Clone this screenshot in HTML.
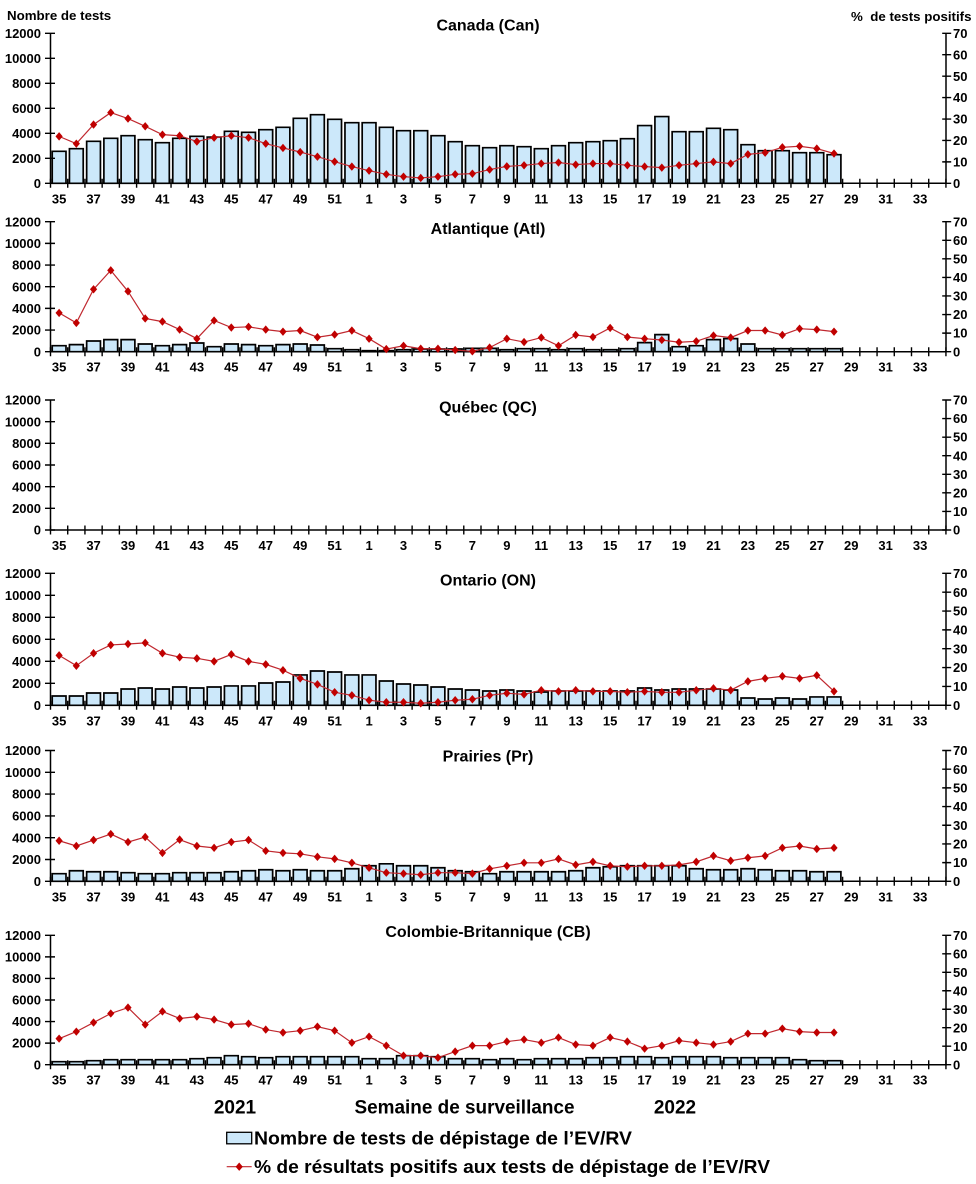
<!DOCTYPE html>
<html><head><meta charset="utf-8">
<style>
html,body{margin:0;padding:0;background:#fff;}
svg{display:block;font-family:"Liberation Sans",Arial,sans-serif;font-weight:bold;}
.b rect{fill:#cce8fa;stroke:#000;stroke-width:1.7;vector-effect:non-scaling-stroke;}
.ln{fill:none;stroke:#c0282f;stroke-width:1.2;vector-effect:non-scaling-stroke;}
.ax{stroke:#000;stroke-width:1.5;fill:none;}
.tk{stroke:#000;fill:none;}
.yl{font-size:13px;text-anchor:end;}
.yr{font-size:13px;text-anchor:start;}
.xl{font-size:13px;text-anchor:middle;}
.tt{font-size:16px;text-anchor:middle;}
</style></head>
<body>
<svg width="976" height="1184" viewBox="0 0 976 1184" xmlns="http://www.w3.org/2000/svg">
<defs>
<marker id="mA" markerUnits="userSpaceOnUse" markerWidth="1" markerHeight="5" refX="0" refY="0" overflow="visible"><path d="M0,-1.96 L0.209,0 L0,1.96 L-0.209,0Z" fill="#c00000"/></marker>
<marker id="mB" markerUnits="userSpaceOnUse" markerWidth="1" markerHeight="5" refX="0" refY="0" overflow="visible"><path d="M0,-2.25 L0.209,0 L0,2.25 L-0.209,0Z" fill="#c00000"/></marker>
</defs>
<rect width="976" height="1184" fill="#fff"/>

<!-- axis titles -->
<text x="7" y="20" font-size="13.3">Nombre de tests</text>
<text x="971.5" y="21" font-size="13.3" text-anchor="end">%&#160; de tests positifs</text>

<!-- ================= PANEL 1 Canada ================= -->
<text class="tt" x="488" y="30.5">Canada (Can)</text>
<g class="b" transform="translate(50.5,183.3) scale(17.22,-0.0125)">
<rect x="0.1" width="0.8" height="2560"/><rect x="1.1" width="0.8" height="2770"/><rect x="2.1" width="0.8" height="3360"/><rect x="3.1" width="0.8" height="3600"/><rect x="4.1" width="0.8" height="3810"/><rect x="5.1" width="0.8" height="3490"/><rect x="6.1" width="0.8" height="3250"/><rect x="7.1" width="0.8" height="3600"/><rect x="8.1" width="0.8" height="3760"/><rect x="9.1" width="0.8" height="3700"/><rect x="10.1" width="0.8" height="4160"/><rect x="11.1" width="0.8" height="4080"/><rect x="12.1" width="0.8" height="4290"/><rect x="13.1" width="0.8" height="4480"/><rect x="14.1" width="0.8" height="5200"/><rect x="15.1" width="0.8" height="5490"/><rect x="16.1" width="0.8" height="5120"/><rect x="17.1" width="0.8" height="4850"/><rect x="18.1" width="0.8" height="4850"/><rect x="19.1" width="0.8" height="4480"/><rect x="20.1" width="0.8" height="4210"/><rect x="21.1" width="0.8" height="4210"/><rect x="22.1" width="0.8" height="3810"/><rect x="23.1" width="0.8" height="3330"/><rect x="24.1" width="0.8" height="3010"/><rect x="25.1" width="0.8" height="2850"/><rect x="26.1" width="0.8" height="3010"/><rect x="27.1" width="0.8" height="2930"/><rect x="28.1" width="0.8" height="2770"/><rect x="29.1" width="0.8" height="3010"/><rect x="30.1" width="0.8" height="3250"/><rect x="31.1" width="0.8" height="3330"/><rect x="32.1" width="0.8" height="3410"/><rect x="33.1" width="0.8" height="3570"/><rect x="34.1" width="0.8" height="4620"/><rect x="35.1" width="0.8" height="5340"/><rect x="36.1" width="0.8" height="4130"/><rect x="37.1" width="0.8" height="4130"/><rect x="38.1" width="0.8" height="4400"/><rect x="39.1" width="0.8" height="4290"/><rect x="40.1" width="0.8" height="3090"/><rect x="41.1" width="0.8" height="2610"/><rect x="42.1" width="0.8" height="2610"/><rect x="43.1" width="0.8" height="2450"/><rect x="44.1" width="0.8" height="2450"/><rect x="45.1" width="0.8" height="2290"/>
</g>
<path class="ax" d="M50.5,33.3V183.3H946V33.3"/>
<line class="tk" x1="49.8" y1="183.3" x2="946.7" y2="183.3" stroke-width="9" stroke-dasharray="1.4 15.82"/>
<line class="tk" x1="50" y1="32.6" x2="50" y2="184" stroke-width="10" stroke-dasharray="1.4 23.6"/>
<line class="tk" x1="946.7" y1="32.6" x2="946.7" y2="184" stroke-width="9" stroke-dasharray="1.4 20.029"/>
<g transform="translate(50.5,183.3) scale(17.22,-2.142857)">
<polyline class="ln" marker-start="url(#mA)" marker-mid="url(#mA)" marker-end="url(#mA)" points="0.5,21.9 1.5,18.5 2.5,27.4 3.5,33 4.5,30.2 5.5,26.6 6.5,22.7 7.5,22.2 8.5,19.5 9.5,21.3 10.5,22.2 11.5,21.3 12.5,18.5 13.5,16.5 14.5,14.6 15.5,12.4 16.5,10.1 17.5,7.8 18.5,5.9 19.5,4.2 20.5,3.1 21.5,2.5 22.5,3.1 23.5,4.2 24.5,4.5 25.5,6.4 26.5,7.9 27.5,8.4 28.5,9.2 29.5,9.7 30.5,8.7 31.5,9.2 32.5,9.2 33.5,8.4 34.5,7.8 35.5,7.3 36.5,8.4 37.5,9.2 38.5,10 39.5,9.2 40.5,13.5 41.5,14.3 42.5,16.8 43.5,17.3 44.5,16.2 45.5,13.9"/>
</g>
<text class="yl" x="41" y="187.9">0</text><text class="yl" x="41" y="162.9">2000</text><text class="yl" x="41" y="137.9">4000</text><text class="yl" x="41" y="112.9">6000</text><text class="yl" x="41" y="87.9">8000</text><text class="yl" x="41" y="62.9">10000</text><text class="yl" x="41" y="37.9">12000</text>
<text class="yr" x="953" y="187.9">0</text><text class="yr" x="953" y="166.5">10</text><text class="yr" x="953" y="145">20</text><text class="yr" x="953" y="123.6">30</text><text class="yr" x="953" y="102.2">40</text><text class="yr" x="953" y="80.8">50</text><text class="yr" x="953" y="59.3">60</text><text class="yr" x="953" y="37.9">70</text>
<g class="xl">
<text x="59.11" y="203.3">35</text><text x="93.55" y="203.3">37</text><text x="127.99" y="203.3">39</text><text x="162.43" y="203.3">41</text><text x="196.87" y="203.3">43</text><text x="231.31" y="203.3">45</text><text x="265.75" y="203.3">47</text><text x="300.19" y="203.3">49</text><text x="334.63" y="203.3">51</text><text x="369.07" y="203.3">1</text><text x="403.51" y="203.3">3</text><text x="437.95" y="203.3">5</text><text x="472.39" y="203.3">7</text><text x="506.83" y="203.3">9</text><text x="541.27" y="203.3">11</text><text x="575.71" y="203.3">13</text><text x="610.15" y="203.3">15</text><text x="644.59" y="203.3">17</text><text x="679.03" y="203.3">19</text><text x="713.47" y="203.3">21</text><text x="747.91" y="203.3">23</text><text x="782.35" y="203.3">25</text><text x="816.79" y="203.3">27</text><text x="851.23" y="203.3">29</text><text x="885.67" y="203.3">31</text><text x="920.11" y="203.3">33</text>
</g>

<!-- ================= PANEL 2 Atlantique ================= -->
<text class="tt" x="488" y="234">Atlantique (Atl)</text>
<g class="b" transform="translate(50.5,351.7) scale(17.22,-0.0108333)">
<rect x="0.1" width="0.8" height="557"/><rect x="1.1" width="0.8" height="650"/><rect x="2.1" width="0.8" height="990"/><rect x="3.1" width="0.8" height="1113"/><rect x="4.1" width="0.8" height="1113"/><rect x="5.1" width="0.8" height="711"/><rect x="6.1" width="0.8" height="557"/><rect x="7.1" width="0.8" height="650"/><rect x="8.1" width="0.8" height="804"/><rect x="9.1" width="0.8" height="464"/><rect x="10.1" width="0.8" height="711"/><rect x="11.1" width="0.8" height="650"/><rect x="12.1" width="0.8" height="557"/><rect x="13.1" width="0.8" height="650"/><rect x="14.1" width="0.8" height="711"/><rect x="15.1" width="0.8" height="619"/><rect x="16.1" width="0.8" height="278"/><rect x="17.1" width="0.8" height="186"/><rect x="18.1" width="0.8" height="93"/><rect x="19.1" width="0.8" height="93"/><rect x="20.1" width="0.8" height="186"/><rect x="21.1" width="0.8" height="247"/><rect x="22.1" width="0.8" height="247"/><rect x="23.1" width="0.8" height="247"/><rect x="24.1" width="0.8" height="309"/><rect x="25.1" width="0.8" height="309"/><rect x="26.1" width="0.8" height="186"/><rect x="27.1" width="0.8" height="278"/><rect x="28.1" width="0.8" height="278"/><rect x="29.1" width="0.8" height="186"/><rect x="30.1" width="0.8" height="278"/><rect x="31.1" width="0.8" height="186"/><rect x="32.1" width="0.8" height="186"/><rect x="33.1" width="0.8" height="278"/><rect x="34.1" width="0.8" height="835"/><rect x="35.1" width="0.8" height="1577"/><rect x="36.1" width="0.8" height="464"/><rect x="37.1" width="0.8" height="557"/><rect x="38.1" width="0.8" height="1113"/><rect x="39.1" width="0.8" height="1206"/><rect x="40.1" width="0.8" height="711"/><rect x="41.1" width="0.8" height="278"/><rect x="42.1" width="0.8" height="278"/><rect x="43.1" width="0.8" height="278"/><rect x="44.1" width="0.8" height="278"/><rect x="45.1" width="0.8" height="278"/>
</g>
<path class="ax" d="M50.5,221.7V351.7H946V221.7"/>
<line class="tk" x1="49.8" y1="351.7" x2="946.7" y2="351.7" stroke-width="9" stroke-dasharray="1.4 15.82"/>
<line class="tk" x1="50" y1="221" x2="50" y2="352.4" stroke-width="10" stroke-dasharray="1.4 20.267"/>
<line class="tk" x1="946.7" y1="221" x2="946.7" y2="352.4" stroke-width="9" stroke-dasharray="1.4 17.171"/>
<g transform="translate(50.5,351.7) scale(17.22,-1.857143)">
<polyline class="ln" marker-start="url(#mB)" marker-mid="url(#mB)" marker-end="url(#mB)" points="0.5,20.9 1.5,15.5 2.5,33.6 3.5,43.8 4.5,32.5 5.5,17.9 6.5,16.2 7.5,11.9 8.5,7 9.5,16.8 10.5,13 11.5,13.4 12.5,11.9 13.5,10.8 14.5,11.4 15.5,7.8 16.5,9.2 17.5,11.4 18.5,7 19.5,1.4 20.5,3.2 21.5,1.6 22.5,1.6 23.5,0.9 24.5,0.2 25.5,2.2 26.5,7 27.5,5.2 28.5,7.6 29.5,3.2 30.5,9 31.5,7.9 32.5,12.8 33.5,7.9 34.5,7 35.5,6.3 36.5,5.1 37.5,5.6 38.5,8.7 39.5,7.6 40.5,11.4 41.5,11.4 42.5,9 43.5,12.4 44.5,11.9 45.5,10.8"/>
</g>
<text class="yl" x="41" y="356.3">0</text><text class="yl" x="41" y="334.6">2000</text><text class="yl" x="41" y="313">4000</text><text class="yl" x="41" y="291.3">6000</text><text class="yl" x="41" y="269.6">8000</text><text class="yl" x="41" y="248">10000</text><text class="yl" x="41" y="226.3">12000</text>
<text class="yr" x="953" y="356.3">0</text><text class="yr" x="953" y="337.7">10</text><text class="yr" x="953" y="319.2">20</text><text class="yr" x="953" y="300.6">30</text><text class="yr" x="953" y="282">40</text><text class="yr" x="953" y="263.4">50</text><text class="yr" x="953" y="244.9">60</text><text class="yr" x="953" y="226.3">70</text>
<g class="xl">
<text x="59.11" y="371.7">35</text><text x="93.55" y="371.7">37</text><text x="127.99" y="371.7">39</text><text x="162.43" y="371.7">41</text><text x="196.87" y="371.7">43</text><text x="231.31" y="371.7">45</text><text x="265.75" y="371.7">47</text><text x="300.19" y="371.7">49</text><text x="334.63" y="371.7">51</text><text x="369.07" y="371.7">1</text><text x="403.51" y="371.7">3</text><text x="437.95" y="371.7">5</text><text x="472.39" y="371.7">7</text><text x="506.83" y="371.7">9</text><text x="541.27" y="371.7">11</text><text x="575.71" y="371.7">13</text><text x="610.15" y="371.7">15</text><text x="644.59" y="371.7">17</text><text x="679.03" y="371.7">19</text><text x="713.47" y="371.7">21</text><text x="747.91" y="371.7">23</text><text x="782.35" y="371.7">25</text><text x="816.79" y="371.7">27</text><text x="851.23" y="371.7">29</text><text x="885.67" y="371.7">31</text><text x="920.11" y="371.7">33</text>
</g>

<!-- ================= PANEL 3 Québec ================= -->
<text class="tt" x="488" y="412.5">Québec (QC)</text>
<path class="ax" d="M50.5,400V530H946V400"/>
<line class="tk" x1="49.8" y1="530" x2="946.7" y2="530" stroke-width="9" stroke-dasharray="1.4 15.82"/>
<line class="tk" x1="50" y1="399.3" x2="50" y2="530.7" stroke-width="10" stroke-dasharray="1.4 20.267"/>
<line class="tk" x1="946.7" y1="399.3" x2="946.7" y2="530.7" stroke-width="9" stroke-dasharray="1.4 17.171"/>
<text class="yl" x="41" y="534.6">0</text><text class="yl" x="41" y="512.9">2000</text><text class="yl" x="41" y="491.3">4000</text><text class="yl" x="41" y="469.6">6000</text><text class="yl" x="41" y="447.9">8000</text><text class="yl" x="41" y="426.3">10000</text><text class="yl" x="41" y="404.6">12000</text>
<text class="yr" x="953" y="534.6">0</text><text class="yr" x="953" y="516">10</text><text class="yr" x="953" y="497.5">20</text><text class="yr" x="953" y="478.9">30</text><text class="yr" x="953" y="460.3">40</text><text class="yr" x="953" y="441.7">50</text><text class="yr" x="953" y="423.2">60</text><text class="yr" x="953" y="404.6">70</text>
<g class="xl">
<text x="59.11" y="550">35</text><text x="93.55" y="550">37</text><text x="127.99" y="550">39</text><text x="162.43" y="550">41</text><text x="196.87" y="550">43</text><text x="231.31" y="550">45</text><text x="265.75" y="550">47</text><text x="300.19" y="550">49</text><text x="334.63" y="550">51</text><text x="369.07" y="550">1</text><text x="403.51" y="550">3</text><text x="437.95" y="550">5</text><text x="472.39" y="550">7</text><text x="506.83" y="550">9</text><text x="541.27" y="550">11</text><text x="575.71" y="550">13</text><text x="610.15" y="550">15</text><text x="644.59" y="550">17</text><text x="679.03" y="550">19</text><text x="713.47" y="550">21</text><text x="747.91" y="550">23</text><text x="782.35" y="550">25</text><text x="816.79" y="550">27</text><text x="851.23" y="550">29</text><text x="885.67" y="550">31</text><text x="920.11" y="550">33</text>
</g>

<!-- ================= PANEL 4 Ontario ================= -->
<text class="tt" x="488" y="585.5">Ontario (ON)</text>
<g class="b" transform="translate(50.5,705.3) scale(17.22,-0.011)">
<rect x="0.1" width="0.8" height="848"/><rect x="1.1" width="0.8" height="848"/><rect x="2.1" width="0.8" height="1121"/><rect x="3.1" width="0.8" height="1121"/><rect x="4.1" width="0.8" height="1485"/><rect x="5.1" width="0.8" height="1576"/><rect x="6.1" width="0.8" height="1485"/><rect x="7.1" width="0.8" height="1667"/><rect x="8.1" width="0.8" height="1576"/><rect x="9.1" width="0.8" height="1667"/><rect x="10.1" width="0.8" height="1758"/><rect x="11.1" width="0.8" height="1758"/><rect x="12.1" width="0.8" height="2030"/><rect x="13.1" width="0.8" height="2121"/><rect x="14.1" width="0.8" height="2758"/><rect x="15.1" width="0.8" height="3121"/><rect x="16.1" width="0.8" height="3030"/><rect x="17.1" width="0.8" height="2758"/><rect x="18.1" width="0.8" height="2758"/><rect x="19.1" width="0.8" height="2212"/><rect x="20.1" width="0.8" height="1939"/><rect x="21.1" width="0.8" height="1848"/><rect x="22.1" width="0.8" height="1667"/><rect x="23.1" width="0.8" height="1485"/><rect x="24.1" width="0.8" height="1394"/><rect x="25.1" width="0.8" height="1303"/><rect x="26.1" width="0.8" height="1394"/><rect x="27.1" width="0.8" height="1303"/><rect x="28.1" width="0.8" height="1212"/><rect x="29.1" width="0.8" height="1303"/><rect x="30.1" width="0.8" height="1303"/><rect x="31.1" width="0.8" height="1303"/><rect x="32.1" width="0.8" height="1303"/><rect x="33.1" width="0.8" height="1303"/><rect x="34.1" width="0.8" height="1576"/><rect x="35.1" width="0.8" height="1394"/><rect x="36.1" width="0.8" height="1485"/><rect x="37.1" width="0.8" height="1485"/><rect x="38.1" width="0.8" height="1485"/><rect x="39.1" width="0.8" height="1394"/><rect x="40.1" width="0.8" height="667"/><rect x="41.1" width="0.8" height="576"/><rect x="42.1" width="0.8" height="667"/><rect x="43.1" width="0.8" height="576"/><rect x="44.1" width="0.8" height="758"/><rect x="45.1" width="0.8" height="758"/>
</g>
<path class="ax" d="M50.5,573.3V705.3H946V573.3"/>
<line class="tk" x1="49.8" y1="705.3" x2="946.7" y2="705.3" stroke-width="9" stroke-dasharray="1.4 15.82"/>
<line class="tk" x1="50" y1="572.6" x2="50" y2="706" stroke-width="10" stroke-dasharray="1.4 20.6"/>
<line class="tk" x1="946.7" y1="572.6" x2="946.7" y2="706" stroke-width="9" stroke-dasharray="1.4 17.457"/>
<g transform="translate(50.5,705.3) scale(17.22,-1.885714)">
<polyline class="ln" marker-start="url(#mB)" marker-mid="url(#mB)" marker-end="url(#mB)" points="0.5,26.5 1.5,21 2.5,27.6 3.5,32 4.5,32.5 5.5,33.1 6.5,27.6 7.5,25.5 8.5,24.9 9.5,23.3 10.5,27 11.5,23.3 12.5,21.7 13.5,18.6 14.5,14.3 15.5,11.1 16.5,6.9 17.5,5.3 18.5,2.7 19.5,1.6 20.5,1.6 21.5,1.1 22.5,1.6 23.5,2.7 24.5,3.2 25.5,5.3 26.5,6.4 27.5,5.8 28.5,8 29.5,7.4 30.5,8 31.5,7.4 32.5,7.4 33.5,6.9 34.5,7.4 35.5,6.9 36.5,6.9 37.5,8 38.5,9 39.5,8 40.5,12.7 41.5,14.3 42.5,15.4 43.5,14.3 44.5,15.9 45.5,7.4"/>
</g>
<text class="yl" x="41" y="709.9">0</text><text class="yl" x="41" y="687.9">2000</text><text class="yl" x="41" y="665.9">4000</text><text class="yl" x="41" y="643.9">6000</text><text class="yl" x="41" y="621.9">8000</text><text class="yl" x="41" y="599.9">10000</text><text class="yl" x="41" y="577.9">12000</text>
<text class="yr" x="953" y="709.9">0</text><text class="yr" x="953" y="691">10</text><text class="yr" x="953" y="672.2">20</text><text class="yr" x="953" y="653.3">30</text><text class="yr" x="953" y="634.5">40</text><text class="yr" x="953" y="615.6">50</text><text class="yr" x="953" y="596.8">60</text><text class="yr" x="953" y="577.9">70</text>
<g class="xl">
<text x="59.11" y="725.3">35</text><text x="93.55" y="725.3">37</text><text x="127.99" y="725.3">39</text><text x="162.43" y="725.3">41</text><text x="196.87" y="725.3">43</text><text x="231.31" y="725.3">45</text><text x="265.75" y="725.3">47</text><text x="300.19" y="725.3">49</text><text x="334.63" y="725.3">51</text><text x="369.07" y="725.3">1</text><text x="403.51" y="725.3">3</text><text x="437.95" y="725.3">5</text><text x="472.39" y="725.3">7</text><text x="506.83" y="725.3">9</text><text x="541.27" y="725.3">11</text><text x="575.71" y="725.3">13</text><text x="610.15" y="725.3">15</text><text x="644.59" y="725.3">17</text><text x="679.03" y="725.3">19</text><text x="713.47" y="725.3">21</text><text x="747.91" y="725.3">23</text><text x="782.35" y="725.3">25</text><text x="816.79" y="725.3">27</text><text x="851.23" y="725.3">29</text><text x="885.67" y="725.3">31</text><text x="920.11" y="725.3">33</text>
</g>

<!-- ================= PANEL 5 Prairies ================= -->
<text class="tt" x="488" y="761.5">Prairies (Pr)</text>
<g class="b" transform="translate(50.5,881.3) scale(17.22,-0.0109)">
<rect x="0.1" width="0.8" height="697"/><rect x="1.1" width="0.8" height="970"/><rect x="2.1" width="0.8" height="879"/><rect x="3.1" width="0.8" height="879"/><rect x="4.1" width="0.8" height="788"/><rect x="5.1" width="0.8" height="697"/><rect x="6.1" width="0.8" height="697"/><rect x="7.1" width="0.8" height="788"/><rect x="8.1" width="0.8" height="788"/><rect x="9.1" width="0.8" height="788"/><rect x="10.1" width="0.8" height="879"/><rect x="11.1" width="0.8" height="970"/><rect x="12.1" width="0.8" height="1061"/><rect x="13.1" width="0.8" height="970"/><rect x="14.1" width="0.8" height="1061"/><rect x="15.1" width="0.8" height="970"/><rect x="16.1" width="0.8" height="970"/><rect x="17.1" width="0.8" height="1152"/><rect x="18.1" width="0.8" height="1424"/><rect x="19.1" width="0.8" height="1606"/><rect x="20.1" width="0.8" height="1424"/><rect x="21.1" width="0.8" height="1424"/><rect x="22.1" width="0.8" height="1242"/><rect x="23.1" width="0.8" height="970"/><rect x="24.1" width="0.8" height="879"/><rect x="25.1" width="0.8" height="697"/><rect x="26.1" width="0.8" height="879"/><rect x="27.1" width="0.8" height="879"/><rect x="28.1" width="0.8" height="879"/><rect x="29.1" width="0.8" height="879"/><rect x="30.1" width="0.8" height="970"/><rect x="31.1" width="0.8" height="1242"/><rect x="32.1" width="0.8" height="1333"/><rect x="33.1" width="0.8" height="1424"/><rect x="34.1" width="0.8" height="1424"/><rect x="35.1" width="0.8" height="1424"/><rect x="36.1" width="0.8" height="1424"/><rect x="37.1" width="0.8" height="1152"/><rect x="38.1" width="0.8" height="1061"/><rect x="39.1" width="0.8" height="1061"/><rect x="40.1" width="0.8" height="1152"/><rect x="41.1" width="0.8" height="1061"/><rect x="42.1" width="0.8" height="970"/><rect x="43.1" width="0.8" height="970"/><rect x="44.1" width="0.8" height="879"/><rect x="45.1" width="0.8" height="879"/>
</g>
<path class="ax" d="M50.5,750.5V881.3H946V750.5"/>
<line class="tk" x1="49.8" y1="881.3" x2="946.7" y2="881.3" stroke-width="9" stroke-dasharray="1.4 15.82"/>
<line class="tk" x1="50" y1="749.8" x2="50" y2="882" stroke-width="10" stroke-dasharray="1.4 20.4"/>
<line class="tk" x1="946.7" y1="749.8" x2="946.7" y2="882" stroke-width="9" stroke-dasharray="1.4 17.286"/>
<g transform="translate(50.5,881.3) scale(17.22,-1.868571)">
<polyline class="ln" marker-start="url(#mB)" marker-mid="url(#mB)" marker-end="url(#mB)" points="0.5,21.7 1.5,18.9 2.5,22.1 3.5,25.3 4.5,21 5.5,23.7 6.5,15.2 7.5,22.3 8.5,18.9 9.5,17.9 10.5,21 11.5,22.1 12.5,16.3 13.5,15.2 14.5,14.7 15.5,13.1 16.5,12 17.5,9.9 18.5,7.2 19.5,4.6 20.5,4.1 21.5,3.5 22.5,4.6 23.5,4.6 24.5,4.1 25.5,6.7 26.5,8.3 27.5,9.9 28.5,9.9 29.5,12 30.5,8.8 31.5,10.4 32.5,8.3 33.5,7.8 34.5,8.3 35.5,8.3 36.5,8.8 37.5,10.4 38.5,13.6 39.5,11 40.5,12.6 41.5,13.6 42.5,17.9 43.5,18.9 44.5,17.3 45.5,17.9"/>
</g>
<text class="yl" x="41" y="885.9">0</text><text class="yl" x="41" y="864.1">2000</text><text class="yl" x="41" y="842.3">4000</text><text class="yl" x="41" y="820.5">6000</text><text class="yl" x="41" y="798.7">8000</text><text class="yl" x="41" y="776.9">10000</text><text class="yl" x="41" y="755.1">12000</text>
<text class="yr" x="953" y="885.9">0</text><text class="yr" x="953" y="867.2">10</text><text class="yr" x="953" y="848.5">20</text><text class="yr" x="953" y="829.8">30</text><text class="yr" x="953" y="811.2">40</text><text class="yr" x="953" y="792.5">50</text><text class="yr" x="953" y="773.8">60</text><text class="yr" x="953" y="755.1">70</text>
<g class="xl">
<text x="59.11" y="901.3">35</text><text x="93.55" y="901.3">37</text><text x="127.99" y="901.3">39</text><text x="162.43" y="901.3">41</text><text x="196.87" y="901.3">43</text><text x="231.31" y="901.3">45</text><text x="265.75" y="901.3">47</text><text x="300.19" y="901.3">49</text><text x="334.63" y="901.3">51</text><text x="369.07" y="901.3">1</text><text x="403.51" y="901.3">3</text><text x="437.95" y="901.3">5</text><text x="472.39" y="901.3">7</text><text x="506.83" y="901.3">9</text><text x="541.27" y="901.3">11</text><text x="575.71" y="901.3">13</text><text x="610.15" y="901.3">15</text><text x="644.59" y="901.3">17</text><text x="679.03" y="901.3">19</text><text x="713.47" y="901.3">21</text><text x="747.91" y="901.3">23</text><text x="782.35" y="901.3">25</text><text x="816.79" y="901.3">27</text><text x="851.23" y="901.3">29</text><text x="885.67" y="901.3">31</text><text x="920.11" y="901.3">33</text>
</g>

<!-- ================= PANEL 6 Colombie-Britannique ================= -->
<text class="tt" x="488" y="937">Colombie-Britannique (CB)</text>
<g class="b" transform="translate(50.5,1064.7) scale(17.22,-0.010783)">
<rect x="0.1" width="0.8" height="279"/><rect x="1.1" width="0.8" height="279"/><rect x="2.1" width="0.8" height="372"/><rect x="3.1" width="0.8" height="465"/><rect x="4.1" width="0.8" height="465"/><rect x="5.1" width="0.8" height="465"/><rect x="6.1" width="0.8" height="465"/><rect x="7.1" width="0.8" height="465"/><rect x="8.1" width="0.8" height="558"/><rect x="9.1" width="0.8" height="651"/><rect x="10.1" width="0.8" height="837"/><rect x="11.1" width="0.8" height="744"/><rect x="12.1" width="0.8" height="651"/><rect x="13.1" width="0.8" height="744"/><rect x="14.1" width="0.8" height="744"/><rect x="15.1" width="0.8" height="744"/><rect x="16.1" width="0.8" height="744"/><rect x="17.1" width="0.8" height="744"/><rect x="18.1" width="0.8" height="558"/><rect x="19.1" width="0.8" height="558"/><rect x="20.1" width="0.8" height="837"/><rect x="21.1" width="0.8" height="837"/><rect x="22.1" width="0.8" height="744"/><rect x="23.1" width="0.8" height="558"/><rect x="24.1" width="0.8" height="558"/><rect x="25.1" width="0.8" height="465"/><rect x="26.1" width="0.8" height="558"/><rect x="27.1" width="0.8" height="465"/><rect x="28.1" width="0.8" height="558"/><rect x="29.1" width="0.8" height="558"/><rect x="30.1" width="0.8" height="558"/><rect x="31.1" width="0.8" height="651"/><rect x="32.1" width="0.8" height="651"/><rect x="33.1" width="0.8" height="744"/><rect x="34.1" width="0.8" height="744"/><rect x="35.1" width="0.8" height="651"/><rect x="36.1" width="0.8" height="744"/><rect x="37.1" width="0.8" height="744"/><rect x="38.1" width="0.8" height="744"/><rect x="39.1" width="0.8" height="651"/><rect x="40.1" width="0.8" height="651"/><rect x="41.1" width="0.8" height="651"/><rect x="42.1" width="0.8" height="651"/><rect x="43.1" width="0.8" height="465"/><rect x="44.1" width="0.8" height="372"/><rect x="45.1" width="0.8" height="372"/>
</g>
<path class="ax" d="M50.5,935.3V1064.7H946V935.3"/>
<line class="tk" x1="49.8" y1="1064.7" x2="946.7" y2="1064.7" stroke-width="9" stroke-dasharray="1.4 15.82"/>
<line class="tk" x1="50" y1="934.6" x2="50" y2="1065.4" stroke-width="10" stroke-dasharray="1.4 20.167"/>
<line class="tk" x1="946.7" y1="934.6" x2="946.7" y2="1065.4" stroke-width="9" stroke-dasharray="1.4 17.086"/>
<g transform="translate(50.5,1064.7) scale(17.22,-1.848571)">
<polyline class="ln" marker-start="url(#mB)" marker-mid="url(#mB)" marker-end="url(#mB)" points="0.5,14.1 1.5,17.9 2.5,22.8 3.5,27.7 4.5,30.9 5.5,21.7 6.5,28.8 7.5,25 8.5,26 9.5,24.4 10.5,21.7 11.5,22.2 12.5,19 13.5,17.4 14.5,18.4 15.5,20.6 16.5,18.4 17.5,11.9 18.5,15.2 19.5,10.3 20.5,4.9 21.5,4.9 22.5,3.8 23.5,7.1 24.5,10.3 25.5,10.3 26.5,12.5 27.5,13.6 28.5,11.9 29.5,14.7 30.5,10.9 31.5,10.3 32.5,14.7 33.5,12.5 34.5,8.7 35.5,10.3 36.5,13 37.5,11.9 38.5,10.9 39.5,12.5 40.5,16.8 41.5,16.8 42.5,19.5 43.5,17.9 44.5,17.4 45.5,17.4"/>
</g>
<text class="yl" x="41" y="1069.3">0</text><text class="yl" x="41" y="1047.7">2000</text><text class="yl" x="41" y="1026.2">4000</text><text class="yl" x="41" y="1004.6">6000</text><text class="yl" x="41" y="983">8000</text><text class="yl" x="41" y="961.5">10000</text><text class="yl" x="41" y="939.9">12000</text>
<text class="yr" x="953" y="1069.3">0</text><text class="yr" x="953" y="1050.8">10</text><text class="yr" x="953" y="1032.3">20</text><text class="yr" x="953" y="1013.8">30</text><text class="yr" x="953" y="995.4">40</text><text class="yr" x="953" y="976.9">50</text><text class="yr" x="953" y="958.4">60</text><text class="yr" x="953" y="939.9">70</text>
<g class="xl">
<text x="59.11" y="1084.7">35</text><text x="93.55" y="1084.7">37</text><text x="127.99" y="1084.7">39</text><text x="162.43" y="1084.7">41</text><text x="196.87" y="1084.7">43</text><text x="231.31" y="1084.7">45</text><text x="265.75" y="1084.7">47</text><text x="300.19" y="1084.7">49</text><text x="334.63" y="1084.7">51</text><text x="369.07" y="1084.7">1</text><text x="403.51" y="1084.7">3</text><text x="437.95" y="1084.7">5</text><text x="472.39" y="1084.7">7</text><text x="506.83" y="1084.7">9</text><text x="541.27" y="1084.7">11</text><text x="575.71" y="1084.7">13</text><text x="610.15" y="1084.7">15</text><text x="644.59" y="1084.7">17</text><text x="679.03" y="1084.7">19</text><text x="713.47" y="1084.7">21</text><text x="747.91" y="1084.7">23</text><text x="782.35" y="1084.7">25</text><text x="816.79" y="1084.7">27</text><text x="851.23" y="1084.7">29</text><text x="885.67" y="1084.7">31</text><text x="920.11" y="1084.7">33</text>
</g>

<!-- bottom labels -->
<text x="235" y="1113.5" font-size="19" text-anchor="middle">2021</text>
<text x="464.5" y="1113.5" font-size="19" text-anchor="middle" textLength="220" lengthAdjust="spacingAndGlyphs">Semaine de surveillance</text>
<text x="675" y="1113.5" font-size="19" text-anchor="middle">2022</text>

<!-- legend -->
<rect x="226.7" y="1132.3" width="25" height="11.5" fill="#cce8fa" stroke="#000" stroke-width="1.3"/>
<text x="254" y="1144.5" font-size="18" textLength="378" lengthAdjust="spacingAndGlyphs">Nombre de tests de dépistage de l’EV/RV</text>
<line x1="226.7" y1="1166.7" x2="251.7" y2="1166.7" stroke="#c0282f" stroke-width="1.2"/>
<path d="M239.2,1162.5L242.8,1166.7L239.2,1170.9L235.6,1166.7Z" fill="#c00000"/>
<text x="254" y="1173" font-size="18" textLength="516" lengthAdjust="spacingAndGlyphs">% de résultats positifs aux tests de dépistage de l’EV/RV</text>
</svg>
</body></html>
